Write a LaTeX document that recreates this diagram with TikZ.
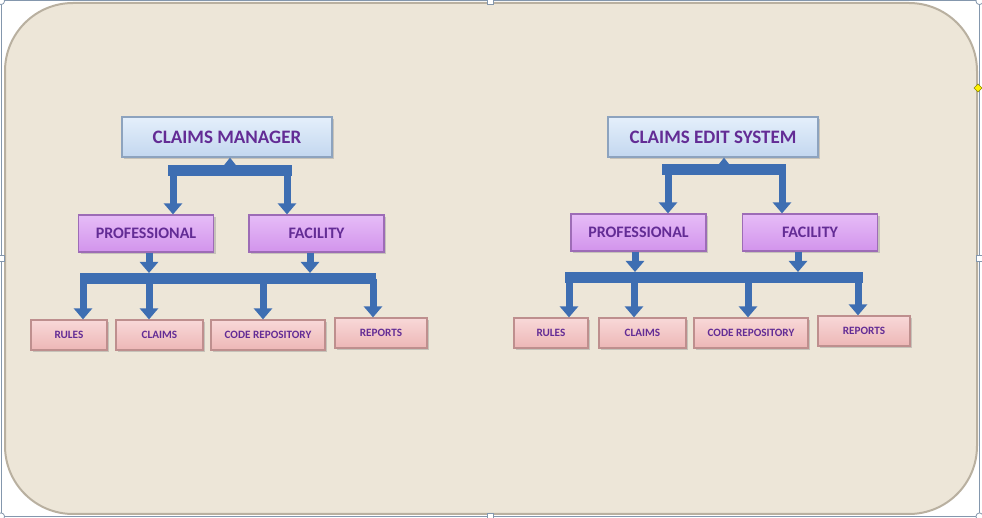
\documentclass[tikz,border=0pt]{standalone}
\usepackage{fontspec}
\setmainfont{Carlito}
\usetikzlibrary{shapes,arrows.meta,shadows}

\definecolor{paper}{HTML}{EDE6D8}
\definecolor{paperedge}{HTML}{B9B0A0}
\definecolor{frameline}{HTML}{8497AD}
\definecolor{flowblue}{HTML}{3E6EB2}
\definecolor{titletext}{HTML}{632C95}
\definecolor{topfillA}{HTML}{E4EFFB}
\definecolor{topfillB}{HTML}{C3D7EF}
\definecolor{topedge}{HTML}{8DA3BE}
\definecolor{midfillA}{HTML}{E6BCF7}
\definecolor{midfillB}{HTML}{D294EC}
\definecolor{midedge}{HTML}{9D6CB6}
\definecolor{leaffillA}{HTML}{F8D8D8}
\definecolor{leaffillB}{HTML}{EDB7B6}
\definecolor{leafedge}{HTML}{BE8F8E}

\begin{document}
\begin{tikzpicture}[x=0.5pt, y=-0.5pt,
    topbox/.style={draw=topedge, line width=0.6pt, top color=topfillA, bottom color=topfillB,
      drop shadow={shadow xshift=1pt, shadow yshift=-1pt, opacity=0.35},
      minimum width=105pt, minimum height=20pt, inner sep=0pt,
      font=\fontsize{9.5}{10}\selectfont\bfseries, text=titletext},
    midbox/.style={draw=midedge, line width=0.6pt, top color=midfillA, bottom color=midfillB,
      drop shadow={shadow xshift=1pt, shadow yshift=-1pt, opacity=0.35},
      minimum width=67.5pt, minimum height=18.5pt, inner sep=0pt,
      font=\fontsize{8}{9}\selectfont\bfseries, text=titletext},
    leafbox/.style={draw=leafedge, line width=0.6pt, top color=leaffillA, bottom color=leaffillB,
      drop shadow={shadow xshift=1pt, shadow yshift=-1pt, opacity=0.35},
      minimum height=15pt, inner sep=0pt,
      font=\fontsize{5.6}{6}\selectfont\bfseries, text=titletext},
    bar/.style={draw=flowblue, line width=5.5pt},
    flow/.style={draw=flowblue, line width=3.5pt, -{Triangle[width=9pt, length=5.5pt]}},
    tip/.style={draw=flowblue, line width=2pt, -{Triangle[width=6pt, length=4pt]}}]

  \useasboundingbox (0,0) rectangle (982,518);

  % Background and selection frame
  \fill[white] (0,0) rectangle (982,518);
  \draw[frameline, line width=0.5pt] (1,1) rectangle (979.5,516.5);
  \filldraw[fill=paper, draw=paperedge, line width=1pt, rounded corners=34pt] (5,3) rectangle (977,514);
  \foreach \hx/\hy in {490/1, 1/258, 979.5/258, 490/516.5}
    \filldraw[fill=white, draw=frameline, line width=0.4pt] (\hx-3,\hy-3) rectangle (\hx+3,\hy+3);
  \foreach \hx/\hy in {1/1, 979.5/1, 1/516.5, 979.5/516.5}
    \filldraw[fill=white, draw=frameline, line width=0.4pt] (\hx,\hy) circle (1.8pt);
  \filldraw[fill=yellow, draw=olive, line width=0.3pt] (978,84) -- (982,88) -- (978,92) -- (974,88) -- cycle;

  % Left tree
  \node[topbox] (lmgr) at (227,137) {CLAIMS MANAGER};
  \node[midbox] (lprof) at (146,233.5) {PROFESSIONAL};
  \node[midbox] (lfac) at (316.5,233.5) {FACILITY};
  \foreach \n/\txt/\x/\y/\w in {lrules/RULES/69/335/38, lclaims/CLAIMS/159.5/335/43.5,
      lcode/CODE REPOSITORY/268/335/57, lreports/REPORTS/381/333/46}
    \node[leafbox, minimum width=\w pt] (\n) at (\x,\y) {\txt};

  \coordinate (lbarA) at (168,171);
  \coordinate (lbarB) at (292,171);
  \draw[bar] (lbarA) -- (lbarB);
  \coordinate (ltip) at (230,171);
  \draw[tip] (ltip) -- (ltip |- lmgr.south);
  \coordinate (ld1) at (173,171);
  \coordinate (ld2) at (287,171);
  \draw[flow] (ld1) -- (ld1 |- lprof.north);
  \draw[flow] (ld2) -- (ld2 |- lfac.north);

  \coordinate (lbarC) at (80,279);
  \coordinate (lbarD) at (376,279);
  \draw[bar] (lbarC) -- (lbarD);
  \coordinate (lup1) at (149,273);
  \coordinate (lup2) at (310,273);
  \draw[flow] (lup1 |- lprof.south) -- (lup1);
  \draw[flow] (lup2 |- lfac.south) -- (lup2);
  \foreach \x/\n in {83/lrules, 149/lclaims, 263/lcode, 373/lreports} {
    \coordinate (b\n) at (\x,279);
    \draw[flow] (b\n) -- (b\n |- \n.north);
  }

  % Right tree
  \node[topbox] (rmgr) at (713,137) {CLAIMS EDIT SYSTEM};
  \node[midbox] (rprof) at (638.5,232.5) {PROFESSIONAL};
  \node[midbox] (rfac) at (810,232.5) {FACILITY};
  \foreach \n/\txt/\x/\y/\w in {rrules/RULES/551/333/37, rclaims/CLAIMS/642.5/333/43.5,
      rcode/CODE REPOSITORY/751/333/57, rreports/REPORTS/864/331/46}
    \node[leafbox, minimum width=\w pt] (\n) at (\x,\y) {\txt};

  \coordinate (rbarA) at (662,170);
  \coordinate (rbarB) at (786,170);
  \draw[bar] (rbarA) -- (rbarB);
  \coordinate (rtip) at (724,170);
  \draw[tip] (rtip) -- (rtip |- rmgr.south);
  \coordinate (rd1) at (668,170);
  \coordinate (rd2) at (782,170);
  \draw[flow] (rd1) -- (rd1 |- rprof.north);
  \draw[flow] (rd2) -- (rd2 |- rfac.north);

  \coordinate (rbarC) at (565,277.5);
  \coordinate (rbarD) at (863,277.5);
  \draw[bar] (rbarC) -- (rbarD);
  \coordinate (rup1) at (635,272);
  \coordinate (rup2) at (798,272);
  \draw[flow] (rup1 |- rprof.south) -- (rup1);
  \draw[flow] (rup2 |- rfac.south) -- (rup2);
  \foreach \x/\n in {569/rrules, 634/rclaims, 748/rcode, 858/rreports} {
    \coordinate (b\n) at (\x,277.5);
    \draw[flow] (b\n) -- (b\n |- \n.north);
  }
\end{tikzpicture}
\end{document}
